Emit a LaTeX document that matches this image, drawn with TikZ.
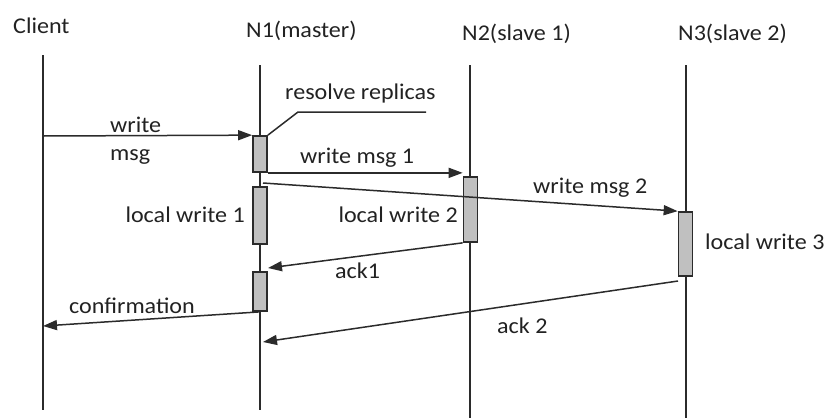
\documentclass[tikz,border=0pt]{standalone}
\usepackage{fontspec}
\setmainfont[FakeStretch=1.07]{Carlito}
\usetikzlibrary{arrows.meta}
\definecolor{ink}{HTML}{2B2B2B}
\definecolor{txt}{HTML}{222222}
\definecolor{actfill}{HTML}{C0C0C0}

\begin{document}
\begin{tikzpicture}[x=1pt,y=-1pt,
  lifeline/.style={draw=ink, line width=1.5pt},
  actbox/.style={draw=ink, fill=actfill, line width=1.7pt, minimum width=14pt, inner sep=0pt},
  msg/.style={draw=ink, line width=1.5pt, -{Triangle[length=14pt,width=10pt]}},
  lbl/.style={font=\fontsize{22.5}{26}\selectfont, text=txt, inner sep=0pt},
  leader/.style={draw=ink, line width=1.5pt},
]
\useasboundingbox (0,0) rectangle (826,418);

% participants
\node[lbl, anchor=base west] (tClient) at (13,33) {Client};
\node[lbl, anchor=base west] (tN1) at (246,37) {N1(master)};
\node[lbl, anchor=base west] (tN2) at (462,40) {N2(slave 1)};
\node[lbl, anchor=base west] (tN3) at (678,40) {N3(slave 2)};

% lifelines
\coordinate (c0) at (43,55);  \coordinate (c1) at (43,410);
\coordinate (m0) at (260,65); \coordinate (m1) at (260,410);
\coordinate (s0) at (470,65); \coordinate (s1) at (470,418);
\coordinate (r0) at (686,65); \coordinate (r1) at (686,418);
\draw[lifeline] (c0) -- (c1);
\draw[lifeline] (m0) -- (m1);
\draw[lifeline] (s0) -- (s1);
\draw[lifeline] (r0) -- (r1);

% activation boxes
\node[actbox, minimum height=36pt] (a1) at (260,154) {};
\node[actbox, minimum height=57pt] (a2) at (260,215.5) {};
\node[actbox, minimum height=39pt] (a3) at (260,291.5) {};
\node[actbox, minimum height=65pt] (b1) at (470.5,209.5) {};
\node[actbox, minimum height=64pt] (d1) at (685.5,244) {};

% note on the first box
\node[lbl, anchor=base west] (note) at (285,99) {resolve replicas};
\coordinate (nk) at (298,112);
\coordinate (ne) at (426,112);
\draw[leader] (a1.north east) -- (nk) -- (ne);

% write request
\coordinate (cw) at (43,136);
\draw[msg] (cw) -- (a1.north west);
\node[lbl, anchor=base west] (lw) at (110,132) {write};
\node[lbl, anchor=base west] (lm) at (110,160) {msg};

% write msg 1
\draw[msg] (a1.south east) -- (a1.south east -| b1.west);
\node[lbl, anchor=base west] (l1) at (300,163) {write msg 1};

% write msg 2
\coordinate (w2) at (263,183);
\draw[msg] (w2) -- (d1.north west);
\node[lbl, anchor=base west] (l2) at (533,193) {write msg 2};

% local writes
\node[lbl, anchor=base east] (lw1) at (245,222) {local write 1};
\node[lbl, anchor=base east] (lw2) at (458,222) {local write 2};
\node[lbl, anchor=base west] (lw3) at (705,249) {local write 3};

% ack1
\coordinate (k1) at (268,268);
\draw[msg] (b1.south west) -- (k1);
\node[lbl, anchor=base west] (la1) at (335,278) {ack1};

% confirmation
\coordinate (cf) at (43,326);
\draw[msg] (a3.south) -- (cf);
\node[lbl, anchor=base west] (lcf) at (69,313) {confirmation};

% ack 2
\coordinate (k2s) at (678,281);
\coordinate (k2) at (263,342);
\draw[msg] (k2s) -- (k2);
\node[lbl, anchor=base west] (la2) at (497,333) {ack 2};
\end{tikzpicture}
\end{document}
